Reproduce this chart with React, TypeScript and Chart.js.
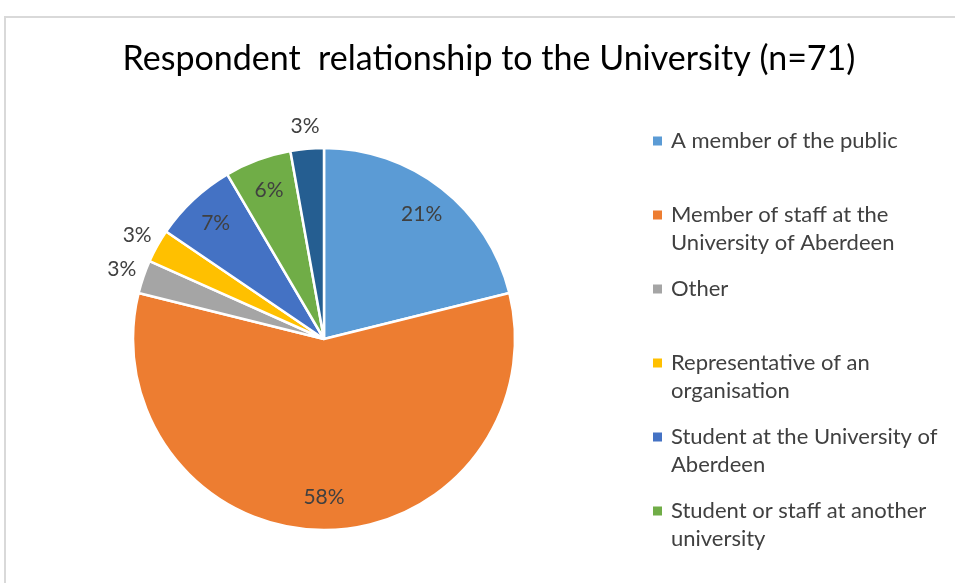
import React, { useEffect, useRef } from 'react';
import { Chart, registerables } from 'chart.js';

Chart.register(...registerables);

const TITLE = 'Respondent  relationship to the University (n=71)';

// Legend/category labels (each entry split into its displayed lines)
const categories: string[][] = [
  ['A member of the public'],
  ['Member of staff at the', 'University of Aberdeen'],
  ['Other'],
  ['Representative of an', 'organisation'],
  ['Student at the University of', 'Aberdeen'],
  ['Student or staff at another', 'university'],
  ['Not answered'],
];

// Respondent counts (n = 71)
const counts: number[] = [15, 41, 2, 2, 5, 4, 2];

const sliceColors: string[] = [
  '#5B9BD5',
  '#ED7D31',
  '#A5A5A5',
  '#FFC000',
  '#4472C4',
  '#70AD47',
  '#255E91',
];

const FONT = 'Lato, "Open Sans", sans-serif';

const framePlugin = {
  id: 'frame',
  beforeDraw(chart: any) {
    const ctx = chart.ctx;
    ctx.save();
    ctx.fillStyle = '#ffffff';
    ctx.fillRect(0, 0, chart.width, chart.height);
    ctx.strokeStyle = '#D9D9D9';
    ctx.lineWidth = 2;
    ctx.beginPath();
    ctx.moveTo(5, chart.height + 2);
    ctx.lineTo(5, 17);
    ctx.lineTo(chart.width + 2, 17);
    ctx.stroke();
    ctx.restore();
  },
};

const titlePlugin = {
  id: 'customTitle',
  afterDraw(chart: any) {
    const ctx = chart.ctx;
    ctx.save();
    ctx.font = `34px ${FONT}`;
    ctx.fillStyle = '#000000';
    ctx.textAlign = 'center';
    ctx.textBaseline = 'middle';
    ctx.fillText(TITLE, 489, 59);
    ctx.restore();
  },
};

const pieLabelPlugin = {
  id: 'pieLabels',
  afterDatasetsDraw(chart: any) {
    const ctx = chart.ctx;
    const meta = chart.getDatasetMeta(0);
    const data = chart.data.datasets[0].data as number[];
    const total = data.reduce((a, b) => a + b, 0);
    ctx.save();
    ctx.font = `21px ${FONT}`;
    ctx.fillStyle = '#404040';
    ctx.textAlign = 'center';
    ctx.textBaseline = 'middle';
    meta.data.forEach((arc: any, i: number) => {
      const { x, y, startAngle, endAngle, outerRadius } = arc.getProps(
        ['x', 'y', 'startAngle', 'endAngle', 'outerRadius'],
        true
      );
      const mid = (startAngle + endAngle) / 2;
      const pct = data[i] / total;
      const r = pct >= 0.05 ? outerRadius * 0.83 : outerRadius * 1.12;
      ctx.fillText(Math.round(pct * 100) + '%', x + Math.cos(mid) * r, y + Math.sin(mid) * r);
    });
    ctx.restore();
  },
};

const legendPlugin = {
  id: 'customLegend',
  afterDraw(chart: any) {
    const ctx = chart.ctx;
    const labels = chart.data.labels as string[][];
    const colors = chart.data.datasets[0].backgroundColor as string[];
    const boxX = 653;
    const textX = 671;
    const startY = 141;
    const step = 74;
    const lineH = 28;
    const limit = chart.height - 20;
    ctx.save();
    ctx.font = `22px ${FONT}`;
    ctx.textAlign = 'left';
    ctx.textBaseline = 'middle';
    labels.forEach((lines, i) => {
      const y = startY + i * step;
      if (y + (lines.length - 1) * lineH + 12 > limit) return;
      ctx.fillStyle = colors[i];
      ctx.fillRect(boxX, y - 4.5, 9, 9);
      ctx.fillStyle = '#404040';
      lines.forEach((ln, j) => ctx.fillText(ln, textX, y + j * lineH));
    });
    ctx.restore();
  },
};

export default function App() {
  const ref = useRef<HTMLCanvasElement | null>(null);

  useEffect(() => {
    if (!ref.current) return;
    const chart = new Chart(ref.current, {
      type: 'pie',
      data: {
        labels: categories,
        datasets: [
          {
            data: counts,
            backgroundColor: sliceColors,
            borderColor: '#ffffff',
            borderWidth: 2.5,
            radius: 191,
          } as any,
        ],
      },
      options: {
        responsive: false,
        animation: false,
        layout: { padding: { left: 0, right: 307, top: 95, bottom: 0 } },
        plugins: {
          legend: { display: false },
          title: { display: false },
          tooltip: { enabled: false },
        },
      },
      plugins: [framePlugin, pieLabelPlugin, legendPlugin, titlePlugin],
    });
    return () => chart.destroy();
  }, []);

  return (
    <div style={{ position: 'fixed', left: 0, top: 0, width: 955, height: 583, background: '#fff' }}>
      <canvas ref={ref} width={955} height={583} style={{ display: 'block' }} />
    </div>
  );
}
